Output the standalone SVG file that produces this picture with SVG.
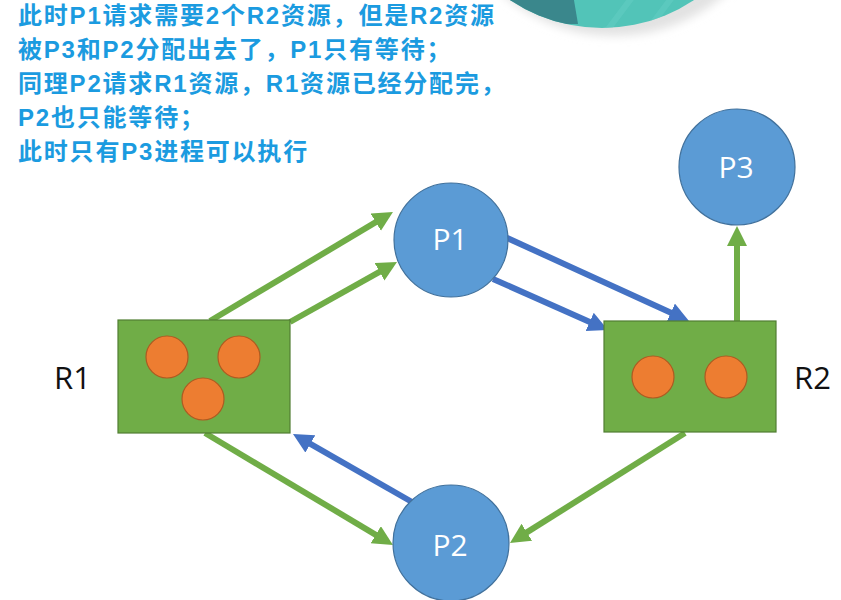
<svg xmlns="http://www.w3.org/2000/svg" width="841" height="600" viewBox="0 0 841 600">
<style>
.note{font-family:"Liberation Sans","Noto Sans CJK SC",sans-serif;font-weight:bold;font-size:24px;fill:#1b9be0;letter-spacing:1.8px}
.proc{fill:#5b9bd5;stroke:#41719c;stroke-width:1.2}
.res{fill:#70ad47;stroke:#507e32;stroke-width:1.2}
.tok{fill:#ed7d31;stroke:#ae5a21;stroke-width:1.2}
.plab{font-family:"Open Sans","Liberation Sans",sans-serif;font-size:30px;fill:#ffffff;text-anchor:middle}
.rlab{font-family:"Open Sans","Liberation Sans",sans-serif;font-size:31px;fill:#111111}
.g{stroke:#70ad47;stroke-width:6;fill:none;marker-end:url(#ag)}
.b{stroke:#4472c4;stroke-width:6;fill:none;marker-end:url(#ab)}
</style>
<defs>
<marker id="ag" markerUnits="userSpaceOnUse" markerWidth="22" markerHeight="22" refX="2" refY="10" orient="auto"><path d="M0,0 L20,10 L0,20 z" fill="#70ad47"/></marker>
<marker id="ab" markerUnits="userSpaceOnUse" markerWidth="22" markerHeight="22" refX="2" refY="10" orient="auto"><path d="M0,0 L20,10 L0,20 z" fill="#4472c4"/></marker>
<clipPath id="disc"><circle cx="602" cy="-137" r="165"/></clipPath>
<filter id="blur" x="-20%" y="-20%" width="140%" height="140%"><feGaussianBlur stdDeviation="5"/></filter>
</defs>
<rect width="841" height="600" fill="#ffffff"/>
<g id="decoration">
<circle cx="614" cy="-134" r="170" fill="#e2e2e2" filter="url(#blur)"/>
<circle cx="602" cy="-137" r="165" fill="#52c4b8"/>
<polygon points="400,-320 520,-320 578,24 400,24" fill="#3a878c" clip-path="url(#disc)"/>
<g clip-path="url(#disc)" stroke="#63cdc2" stroke-width="6" opacity="0.6">
<line x1="600" y1="40" x2="660" y2="-40"/>
<line x1="640" y1="40" x2="700" y2="-40"/>
</g>
</g>
<g id="note">
<text class="note" x="18" y="24">此时P1请求需要2个R2资源，但是R2资源</text>
<text class="note" x="18" y="58">被P3和P2分配出去了，P1只有等待；</text>
<text class="note" x="18" y="92">同理P2请求R1资源，R1资源已经分配完，</text>
<text class="note" x="18" y="126">P2也只能等待；</text>
<text class="note" x="18" y="160">此时只有P3进程可以执行</text>
</g>
<g id="connectors">
<line class="g" x1="210" y1="321" x2="377.5" y2="221.2"/>
<line class="g" x1="290" y1="322" x2="381.3" y2="270.8"/>
<line class="b" x1="505" y1="237" x2="672.6" y2="313.5"/>
<line class="b" x1="493" y1="279" x2="591.5" y2="322.7"/>
<line class="g" x1="737" y1="321" x2="737" y2="244"/>
<line class="g" x1="205" y1="433" x2="377.5" y2="535.8"/>
<line class="b" x1="412" y1="502" x2="308.6" y2="442.9"/>
<line class="g" x1="685" y1="433" x2="525.2" y2="533.4"/>
</g>
<g id="P1">
<circle class="proc" cx="451" cy="240" r="57"/>
<text class="plab" x="450" y="250">P1</text>
</g>
<g id="P3">
<circle class="proc" cx="737" cy="167" r="58"/>
<text class="plab" x="736" y="178">P3</text>
</g>
<g id="P2">
<circle class="proc" cx="451" cy="543" r="58"/>
<text class="plab" x="450" y="556">P2</text>
</g>
<g id="R1">
<rect class="res" x="118" y="320" width="172" height="113"/>
<circle class="tok" cx="167" cy="357" r="21"/>
<circle class="tok" cx="239" cy="357" r="21"/>
<circle class="tok" cx="203" cy="399" r="21"/>
<text class="rlab" x="54" y="389">R1</text>
</g>
<g id="R2">
<rect class="res" x="604" y="321" width="172" height="111"/>
<circle class="tok" cx="653" cy="377" r="21"/>
<circle class="tok" cx="726" cy="377" r="21"/>
<text class="rlab" x="794" y="389">R2</text>
</g>
</svg>
